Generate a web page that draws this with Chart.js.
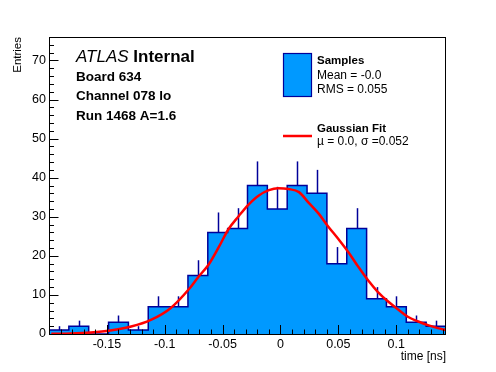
<!DOCTYPE html>
<html>
<head>
<meta charset="utf-8">
<script src="https://cdn.jsdelivr.net/npm/chart.js@4.4.1/dist/chart.umd.min.js"></script>
<style>
  body { margin: 0; background: #fff; }
  canvas { display: block; }
</style>
</head>
<body>
<canvas id="timeChart" width="496" height="372"></canvas>
<script>
// ===== Timing histogram (ROOT style) =====
const FONT = "'Liberation Sans', Arial, Helvetica, sans-serif";

// histogram binning and entries
const xMin = -0.2;
const xMax = 0.143;
const binCounts = [1, 2, 0, 3, 1, 7, 7, 15, 26, 27, 38, 32, 38, 36, 18, 27, 9, 7, 3, 2];

// gaussian fit curve
const fitX = [-0.198, -0.181, -0.164, -0.147, -0.129, -0.112, -0.095, -0.079, -0.071, -0.062,
              -0.053, -0.045, -0.036, -0.028, -0.019, -0.010, -0.002, 0.007, 0.016, 0.024,
              0.033, 0.041, 0.050, 0.059, 0.067, 0.076, 0.084, 0.093, 0.102, 0.110,
              0.119, 0.128, 0.136, 0.143];
const fitY = [0.05, 0.15, 0.4, 0.9, 1.9, 3.6, 6.6, 11.5, 14.6, 17.8,
              22.4, 26.8, 30.2, 33.0, 35.4, 36.8, 37.3, 37.1, 36.3, 33.7,
              30.8, 27.6, 24.3, 20.8, 17.3, 13.6, 10.8, 8.3, 6.2, 4.4,
              3.2, 2.2, 1.5, 1.0];

// axis ticks
const xTickValues = [-0.15, -0.1, -0.05, 0, 0.05, 0.1];
const yTickValues = [0, 10, 20, 30, 40, 50, 60, 70];
const yMax = 76;

// text labels
const atlasLabel = ["Board 634", "Channel 078 lo", "Run 1468 A=1.6"];
const sampleStats = ["Mean = -0.0", "RMS = 0.055"];
const fitStats = "\u00b5 = 0.0, \u03c3 =0.052";

const FILL = "#0099ff";
const NAVY = "#000099";

// build step outline of the histogram
const binWidth = (xMax - xMin) / binCounts.length;
const histPoints = [{ x: xMin, y: 0 }];
binCounts.forEach((n, i) => {
    histPoints.push({ x: xMin + i * binWidth, y: n });
    histPoints.push({ x: xMin + (i + 1) * binWidth, y: n });
});
histPoints.push({ x: xMax, y: 0 });

const fitPoints = fitX.map((x, i) => ({ x: x, y: fitY[i] }));

// error bars on top of the histogram fill
const errorBars = {
    id: "errorBars",
    afterDatasetDraw(chart, args) {
        if (args.index !== 0) return;
        const c = chart.ctx, xs = chart.scales.x, ys = chart.scales.y;
        c.save();
        c.strokeStyle = NAVY;
        c.lineWidth = 1.5;
        binCounts.forEach((n, i) => {
            if (n <= 0) return;
            const px = Math.round(xs.getPixelForValue(xMin + (i + 0.5) * binWidth)) + 0.5;
            c.beginPath();
            c.moveTo(px, ys.getPixelForValue(n));
            c.lineTo(px, ys.getPixelForValue(n + Math.sqrt(n)));
            c.stroke();
        });
        c.restore();
    }
};

// frame, inward ticks, labels and legend
const rootDecor = {
    id: "rootDecor",
    afterDatasetsDraw(chart) {
        const c = chart.ctx, a = chart.chartArea;
        const xs = chart.scales.x, ys = chart.scales.y;
        c.save();
        c.strokeStyle = "#000";
        c.lineWidth = 1;
        c.strokeRect(a.left + 0.5, a.top + 0.5, a.right - a.left - 1, a.bottom - a.top);

        c.beginPath();
        for (let k = -20; k <= 14; k++) {
            const v = k / 100;
            const px = Math.round(xs.getPixelForValue(v)) + 0.5;
            const len = (k % 5 === 0) ? 9 : 4.5;
            c.moveTo(px, a.bottom);
            c.lineTo(px, a.bottom - len);
        }
        for (let v = 0; v <= yMax; v += 2) {
            const py = Math.round(ys.getPixelForValue(v)) + 0.5;
            const len = (v % 10 === 0) ? 9.5 : 5;
            c.moveTo(a.left, py);
            c.lineTo(a.left + len, py);
        }
        c.stroke();
        c.restore();
    },
    afterDraw(chart) {
        const c = chart.ctx;
        c.save();
        c.fillStyle = "#000";
        c.textBaseline = "middle";
        c.textAlign = "left";

        // ATLAS label
        c.font = "italic 17px " + FONT;
        c.fillText("ATLAS", 76, 57);
        const w = c.measureText("ATLAS ").width;
        c.font = "bold 17px " + FONT;
        c.fillText("Internal", 76 + w, 57);
        c.font = "bold 13.5px " + FONT;
        atlasLabel.forEach((t, i) => c.fillText(t, 76, 77 + i * 19.5));

        // legend
        c.fillStyle = FILL;
        c.fillRect(283.5, 53.5, 28, 43);
        c.strokeStyle = NAVY;
        c.lineWidth = 1.2;
        c.strokeRect(283.5, 53.5, 28, 43);
        c.fillStyle = "#000";
        c.font = "bold 11.5px " + FONT;
        c.fillText("Samples", 317, 61);
        c.font = "12px " + FONT;
        sampleStats.forEach((t, i) => c.fillText(t, 317, 76 + i * 14));

        c.strokeStyle = "#ff0000";
        c.lineWidth = 2.5;
        c.beginPath();
        c.moveTo(283, 136);
        c.lineTo(312, 136);
        c.stroke();
        c.font = "bold 11.5px " + FONT;
        c.fillText("Gaussian Fit", 317, 129);
        c.font = "12px " + FONT;
        c.fillText(fitStats, 317, 142);
        c.restore();
    }
};

const ctx = document.getElementById("timeChart").getContext("2d");

const timeChart = new Chart(ctx, {
    type: "line",
    data: {
        datasets: [
            {
                label: "Samples",
                data: histPoints,
                borderColor: NAVY,
                borderWidth: 1.5,
                backgroundColor: FILL,
                fill: "origin",
                pointRadius: 0,
                tension: 0,
                order: 2
            },
            {
                label: "Gaussian Fit",
                data: fitPoints,
                borderColor: "#ff0000",
                borderWidth: 2.5,
                fill: false,
                pointRadius: 0,
                cubicInterpolationMode: "monotone",
                order: 1
            }
        ]
    },
    options: {
        responsive: false,
        animation: false,
        layout: { padding: { top: 37, right: 50, left: 0, bottom: 0 } },
        plugins: {
            legend: { display: false },
            tooltip: { enabled: false }
        },
        scales: {
            x: {
                type: "linear",
                min: xMin,
                max: xMax,
                grid: { display: false, drawTicks: false },
                border: { display: false },
                afterBuildTicks: (s) => { s.ticks = xTickValues.map(v => ({ value: v })); },
                afterFit: (s) => { s.height = 38; },
                ticks: {
                    autoSkip: false,
                    maxRotation: 0,
                    padding: 3,
                    color: "#000",
                    font: { family: FONT, size: 12.5 },
                    callback: (v) => String(Math.round(v * 100) / 100)
                },
                title: {
                    display: true,
                    text: "time [ns]",
                    align: "end",
                    color: "#000",
                    font: { family: FONT, size: 12 },
                    padding: { top: 0, bottom: 8 }
                }
            },
            y: {
                min: 0,
                max: yMax,
                grid: { display: false, drawTicks: false },
                border: { display: false },
                afterBuildTicks: (s) => { s.ticks = yTickValues.map(v => ({ value: v })); },
                afterFit: (s) => { s.width = 49; },
                ticks: {
                    padding: 3,
                    color: "#000",
                    font: { family: FONT, size: 12.5 }
                },
                title: {
                    display: true,
                    text: "Entries",
                    align: "end",
                    color: "#000",
                    font: { family: FONT, size: 11.5 },
                    padding: { top: 11, bottom: 0 }
                }
            }
        }
    },
    plugins: [errorBars, rootDecor]
});
</script>
</body>
</html>
